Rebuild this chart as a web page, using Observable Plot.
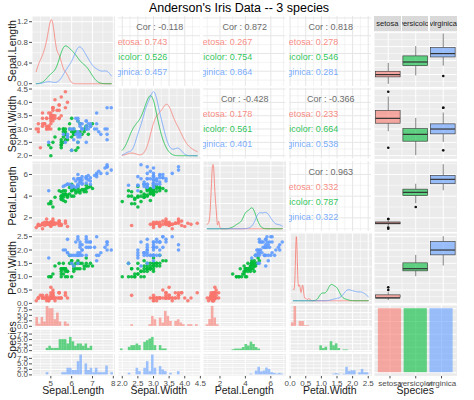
<!DOCTYPE html>
<html><head><meta charset="utf-8">
<script src="https://cdn.jsdelivr.net/npm/d3@7"></script>
<script src="https://cdn.jsdelivr.net/npm/@observablehq/plot@0.6"></script>
<style>
body{margin:0;background:#fff;font-family:"Liberation Sans",Arial,sans-serif}
#chart{position:relative;width:474px;height:400px;overflow:hidden}
.lbl{position:absolute;white-space:nowrap;color:#1a1a1a}
</style></head><body><div id="chart"></div>
<script>
const title = "Anderson's Iris Data -- 3 species";
const species = ["setosa", "versicolor", "virginica"];
const speciesColors = ["#F8766D", "#00BA38", "#619CFF"];
const varNames = ["Sepal.Length", "Sepal.Width", "Petal.Length", "Petal.Width"];

const sepalLength = [5.1,4.9,4.7,4.6,5.0,5.4,4.6,5.0,4.4,4.9,5.4,4.8,4.8,4.3,5.8,5.7,5.4,5.1,5.7,5.1,5.4,5.1,4.6,5.1,4.8,5.0,5.0,5.2,5.2,4.7,4.8,5.4,5.2,5.5,4.9,5.0,5.5,4.9,4.4,5.1,5.0,4.5,4.4,5.0,5.1,4.8,5.1,4.6,5.3,5.0,
7.0,6.4,6.9,5.5,6.5,5.7,6.3,4.9,6.6,5.2,5.0,5.9,6.0,6.1,5.6,6.7,5.6,5.8,6.2,5.6,5.9,6.1,6.3,6.1,6.4,6.6,6.8,6.7,6.0,5.7,5.5,5.5,5.8,6.0,5.4,6.0,6.7,6.3,5.6,5.5,5.5,6.1,5.8,5.0,5.6,5.7,5.7,6.2,5.1,5.7,
6.3,5.8,7.1,6.3,6.5,7.6,4.9,7.3,6.7,7.2,6.5,6.4,6.8,5.7,5.8,6.4,6.5,7.7,7.7,6.0,6.9,5.6,7.7,6.3,6.7,7.2,6.2,6.1,6.4,7.2,7.4,7.9,6.4,6.3,6.1,7.7,6.3,6.4,6.0,6.9,6.7,6.9,5.8,6.8,6.7,6.7,6.3,6.5,6.2,5.9];
const sepalWidth = [3.5,3.0,3.2,3.1,3.6,3.9,3.4,3.4,2.9,3.1,3.7,3.4,3.0,3.0,4.0,4.4,3.9,3.5,3.8,3.8,3.4,3.7,3.6,3.3,3.4,3.0,3.4,3.5,3.4,3.2,3.1,3.4,4.1,4.2,3.1,3.2,3.5,3.6,3.0,3.4,3.5,2.3,3.2,3.5,3.8,3.0,3.8,3.2,3.7,3.3,
3.2,3.2,3.1,2.3,2.8,2.8,3.3,2.4,2.9,2.7,2.0,3.0,2.2,2.9,2.9,3.1,3.0,2.7,2.2,2.5,3.2,2.8,2.5,2.8,2.9,3.0,2.8,3.0,2.9,2.6,2.4,2.4,2.7,2.7,3.0,3.4,3.1,2.3,3.0,2.5,2.6,3.0,2.6,2.3,2.7,3.0,2.9,2.9,2.5,2.8,
3.3,2.7,3.0,2.9,3.0,3.0,2.5,2.9,2.5,3.6,3.2,2.7,3.0,2.5,2.8,3.2,3.0,3.8,2.6,2.2,3.2,2.8,2.8,2.7,3.3,3.2,2.8,3.0,2.8,3.0,2.8,3.8,2.8,2.8,2.6,3.0,3.4,3.1,3.0,3.1,3.1,3.1,2.7,3.2,3.3,3.0,2.5,3.0,3.4,3.0];
const petalLength = [1.4,1.4,1.3,1.5,1.4,1.7,1.4,1.5,1.4,1.5,1.5,1.6,1.4,1.1,1.2,1.5,1.3,1.4,1.7,1.5,1.7,1.5,1.0,1.7,1.9,1.6,1.6,1.5,1.4,1.6,1.6,1.5,1.5,1.4,1.5,1.2,1.3,1.4,1.3,1.5,1.3,1.3,1.3,1.6,1.9,1.4,1.6,1.4,1.5,1.4,
4.7,4.5,4.9,4.0,4.6,4.5,4.7,3.3,4.6,3.9,3.5,4.2,4.0,4.7,3.6,4.4,4.5,4.1,4.5,3.9,4.8,4.0,4.9,4.7,4.3,4.4,4.8,5.0,4.5,3.5,3.8,3.7,3.9,5.1,4.5,4.5,4.7,4.4,4.1,4.0,4.4,4.6,4.0,3.3,4.2,4.2,4.2,4.3,3.0,4.1,
6.0,5.1,5.9,5.6,5.8,6.6,4.5,6.3,5.8,6.1,5.1,5.3,5.5,5.0,5.1,5.3,5.5,6.7,6.9,5.0,5.7,4.9,6.7,4.9,5.7,6.0,4.8,4.9,5.6,5.8,6.1,6.4,5.6,5.1,5.6,6.1,5.6,5.5,4.8,5.4,5.6,5.1,5.1,5.9,5.7,5.2,5.0,5.2,5.4,5.1];
const petalWidth = [0.2,0.2,0.2,0.2,0.2,0.4,0.3,0.2,0.2,0.1,0.2,0.2,0.1,0.1,0.2,0.4,0.4,0.3,0.3,0.3,0.2,0.4,0.2,0.5,0.2,0.2,0.4,0.2,0.2,0.2,0.2,0.4,0.1,0.2,0.2,0.2,0.2,0.1,0.2,0.2,0.3,0.3,0.2,0.6,0.4,0.3,0.2,0.2,0.2,0.2,
1.4,1.5,1.5,1.3,1.5,1.3,1.6,1.0,1.3,1.4,1.0,1.5,1.0,1.4,1.3,1.4,1.5,1.0,1.5,1.1,1.8,1.3,1.5,1.2,1.3,1.4,1.4,1.7,1.5,1.0,1.1,1.0,1.2,1.6,1.5,1.6,1.5,1.3,1.3,1.3,1.2,1.4,1.2,1.0,1.3,1.2,1.3,1.3,1.1,1.3,
2.5,1.9,2.1,1.8,2.2,2.1,1.7,1.8,1.8,2.5,2.0,1.9,2.1,2.0,2.4,2.3,1.8,2.2,2.3,1.5,2.3,2.0,2.0,1.8,2.1,1.8,1.8,1.8,2.1,1.6,1.9,2.0,2.2,1.5,1.4,2.3,2.4,1.8,1.8,2.1,2.4,2.3,1.9,2.3,2.5,2.3,1.9,2.0,2.3,1.8];
const speciesPerRow = 50;

// tick labels
const ticksSepalLength = [5, 6, 7, 8];
const ticksSepalWidth = [2, 2.5, 3, 3.5, 4, 4.5];
const ticksPetalLength = [2, 4, 6];
const ticksPetalWidth = [0, 0.5, 1, 1.5, 2, 2.5];
const ticksDensityTopLeft = [0, 0.4, 0.8, 1.2];
const ticksCountTopLeft = [0, 2.5, 5, 7.5];

// correlation labels (upper panels): [row, col]
const corCells = [[0,1],[0,2],[0,3],[1,2],[1,3],[2,3]];
const corOverall = ["-0.118", "0.872", "0.818", "-0.428", "-0.366", "0.963"];
const corSetosa = ["0.743", "0.267", "0.278", "0.178", "0.233", "0.332"];
const corVersicolor = ["0.526", "0.754", "0.546", "0.561", "0.664", "0.787"];
const corVirginica = ["0.457", "0.864", "0.281", "0.401", "0.538", "0.322"];

// ---------- derived data ----------
const rowSpecies = species.flatMap(s => Array(speciesPerRow).fill(s));
const columns = [sepalLength, sepalWidth, petalLength, petalWidth];
const rows = sepalLength.map((_, k) => ({species: rowSpecies[k], v: columns.map(c => c[k])}));
const vars = varNames.map((name, i) => {
  const values = columns[i];
  const [lo, hi] = d3.extent(values);
  const p = (hi - lo) * 0.05;
  return {name, values, lo, hi, domain: [lo - p, hi + p],
    ticks: [ticksSepalLength, ticksSepalWidth, ticksPetalLength, ticksPetalWidth][i],
    fmt: [d3.format("d"), d3.format(".1f"), d3.format("d"), d3.format(".1f")][i]};
});

function bwNrd0(v) {
  const s = d3.deviation(v);
  const sorted = v.slice().sort(d3.ascending);
  const iqr = d3.quantileSorted(sorted, 0.75) - d3.quantileSorted(sorted, 0.25);
  let lo = Math.min(s, iqr / 1.34);
  if (!(lo > 0)) lo = s || 1;
  return 0.9 * lo * Math.pow(v.length, -0.2);
}
function kde(v, lo, hi, n = 512) {
  const bw = bwNrd0(v), out = [];
  const c = 1 / (v.length * bw * Math.sqrt(2 * Math.PI));
  for (let i = 0; i < n; i++) {
    const x = lo + (hi - lo) * i / (n - 1);
    let s = 0;
    for (const xi of v) { const z = (x - xi) / bw; s += Math.exp(-0.5 * z * z); }
    out.push({x, y: s * c});
  }
  return out;
}
function minor(ticks, domain) {
  if (ticks.length < 2) return [];
  const s = ticks[1] - ticks[0], out = [];
  for (let t = ticks[0] - s / 2; t <= domain[1] + 1e-9; t += s) if (t >= domain[0]) out.push(t);
  return out;
}

// ---------- layout ----------
const chart = document.getElementById("chart");
const PW = 82.5, PH = 70.4;
const colLeft = c => 32 + 85.5 * c;
const rowTop = r => 16 + 72.3 * r;
const FONT = "Liberation Sans, Arial, sans-serif";

function makePanel(s) {
  const ml = s.col === 0 ? 32 : 0;
  const mb = s.row === 4 ? 16 : 0;
  const grid = s.grid || "white";
  const xMinor = s.xMinor ?? minor(s.xTicks, s.xDomain);
  const yMinor = s.yMinor ?? minor(s.yTicks, s.yDomain);
  const marks = [
    Plot.frame({fill: s.bg || "#EBEBEB", stroke: "none"}),
    Plot.ruleX(xMinor, {stroke: grid, strokeWidth: 0.5}),
    Plot.ruleY(yMinor, {stroke: grid, strokeWidth: 0.5}),
    Plot.ruleX(s.xTicks, {stroke: grid, strokeWidth: 1}),
    Plot.ruleY(s.yTicks, {stroke: grid, strokeWidth: 1}),
    ...s.marks
  ];
  const opts = {
    width: PW + ml, height: PH + mb,
    marginLeft: ml, marginRight: 0, marginTop: s.marginTop || 0, marginBottom: mb,
    style: {fontSize: "8px", fontFamily: FONT, color: "#4D4D4D", background: "transparent", overflow: s.clip ? "hidden" : "visible"},
    x: {domain: s.xDomain, axis: s.row === 4 ? "bottom" : null, ticks: s.xLabelTicks || s.xTicks, tickFormat: s.xFmt, tickSize: 3, tickPadding: 1, label: null},
    y: {domain: s.yDomain, axis: s.col === 0 ? "left" : null, ticks: s.yLabelTicks || s.yTicks, tickFormat: s.yFmt, tickSize: 3, tickPadding: 1.5, label: null},
    color: {domain: species, range: speciesColors},
    marks
  };
  if (s.fy) opts.fy = s.fy;
  const svg = Plot.plot(opts);
  svg.style.position = "absolute";
  svg.style.left = (colLeft(s.col) - ml) + "px";
  svg.style.top = rowTop(s.row) + "px";
  chart.appendChild(svg);
}

const corFracs = [0.9, 0.6667, 0.4333, 0.2];

for (let r = 0; r < 4; r++) {
  const vy = vars[r];
  for (let c = 0; c < 4; c++) {
    const vx = vars[c];
    if (r === c) {
      const dens = species.flatMap(sp => {
        const v = vx.values.filter((_, k) => rowSpecies[k] === sp);
        return kde(v, vx.lo, vx.hi).map(d => ({...d, species: sp}));
      });
      const M = d3.max(dens, d => d.y);
      const yTicks = (r === 0) ? ticksDensityTopLeft : d3.ticks(0, M, 4);
      makePanel({row: r, col: c, xDomain: vx.domain, xTicks: vx.ticks, xFmt: vx.fmt,
        yDomain: [-0.05 * M, 1.05 * M], yTicks, yFmt: d3.format(".1f"),
        marks: [Plot.line(dens, {x: "x", y: "y", stroke: "species", z: "species", strokeWidth: 0.8})]});
    } else if (r > c) {
      makePanel({row: r, col: c, xDomain: vx.domain, xTicks: vx.ticks, xFmt: vx.fmt,
        yDomain: vy.domain, yTicks: vy.ticks, yFmt: vy.fmt,
        marks: [Plot.dot(rows, {x: d => d.v[c], y: d => d.v[r], fill: "species", r: 1.8, stroke: "none", fillOpacity: 0.9})]});
    } else {
      const k = corCells.findIndex(([a, b]) => a === r && b === c);
      const yAt = f => vy.lo + f * (vy.hi - vy.lo);
      const texts = [
        {x: (vx.lo + vx.hi) / 2, y: yAt(corFracs[0]), t: "Cor : " + corOverall[k], fill: "#6b6b6b"},
        {x: vx.lo + 0.6 * (vx.hi - vx.lo), y: yAt(corFracs[1]), t: "setosa: " + corSetosa[k], fill: speciesColors[0]},
        {x: vx.lo + 0.6 * (vx.hi - vx.lo), y: yAt(corFracs[2]), t: "versicolor: " + corVersicolor[k], fill: speciesColors[1]},
        {x: vx.lo + 0.6 * (vx.hi - vx.lo), y: yAt(corFracs[3]), t: "virginica: " + corVirginica[k], fill: speciesColors[2]}
      ];
      makePanel({row: r, col: c, clip: true, bg: "white", grid: "#E6E6E6",
        xDomain: vx.domain, xTicks: vx.ticks, yDomain: vy.domain, yTicks: vy.ticks,
        marks: [
          Plot.text(texts.slice(0, 1), {x: "x", y: "y", text: "t", fill: "fill", textAnchor: "middle", fontSize: 9, dy: 1.3}),
          Plot.text(texts.slice(1), {x: "x", y: "y", text: "t", fill: "fill", textAnchor: "end", fontSize: 9, dy: 1.3, fillOpacity: 0.85})
        ]});
    }
  }
  // box plots in column 5
  const stats = [], outliers = [];
  species.forEach((sp, i) => {
    const v = vy.values.filter((_, k) => rowSpecies[k] === sp).sort(d3.ascending);
    const q1 = d3.quantileSorted(v, 0.25), med = d3.quantileSorted(v, 0.5), q3 = d3.quantileSorted(v, 0.75);
    const iqr = q3 - q1;
    const inside = v.filter(x => x >= q1 - 1.5 * iqr && x <= q3 + 1.5 * iqr);
    stats.push({species: sp, idx: i + 1, q1, med, q3, lo: d3.min(inside), hi: d3.max(inside)});
    v.filter(x => x < q1 - 1.5 * iqr || x > q3 + 1.5 * iqr).forEach(x => outliers.push({idx: i + 1, value: x}));
  });
  makePanel({row: r, col: 4, marginTop: r === 0 ? 15 : 0,
    xDomain: [0.5, 3.5], xTicks: [1, 2, 3], xMinor: [1.5, 2.5],
    yDomain: vy.domain, yTicks: vy.ticks,
    marks: [
      Plot.ruleX(stats, {x: "idx", y1: "lo", y2: "q1", stroke: "#333", strokeWidth: 0.6}),
      Plot.ruleX(stats, {x: "idx", y1: "q3", y2: "hi", stroke: "#333", strokeWidth: 0.6}),
      Plot.rect(stats, {x1: d => d.idx - 0.45, x2: d => d.idx + 0.45, y1: "q1", y2: "q3", fill: "species", fillOpacity: 0.6, stroke: "#333", strokeWidth: 0.6}),
      Plot.ruleY(stats, {y: "med", x1: d => d.idx - 0.45, x2: d => d.idx + 0.45, stroke: "#333", strokeWidth: 1.2}),
      Plot.dot(outliers, {x: "idx", y: "value", r: 1.3, fill: "#111", stroke: "none"})
    ]});
}

// bottom row: histograms faceted by species
for (let c = 0; c < 4; c++) {
  const vx = vars[c];
  const w = (vx.hi - vx.lo) / 29;
  const counts = new Map();
  vx.values.forEach((x, k) => {
    const j = Math.ceil(x / w - 0.5 - 1e-7);
    const key = rowSpecies[k] + "|" + j;
    counts.set(key, (counts.get(key) || 0) + 1);
  });
  const bins = Array.from(counts, ([key, n]) => {
    const [sp, j] = key.split("|");
    return {species: sp, x1: (+j - 0.5) * w, x2: (+j + 0.5) * w, count: n};
  });
  const M = d3.max(bins, d => d.count);
  const yTicks = c === 0 ? ticksCountTopLeft : d3.ticks(0, M, 4);
  makePanel({row: 4, col: c, xDomain: vx.domain, xTicks: vx.ticks, xFmt: vx.fmt,
    yDomain: [-0.05 * M, 1.05 * M], yTicks, yFmt: d3.format(".1f"),
    fy: {domain: species, axis: null, label: null, paddingInner: 0.1, paddingOuter: 0, round: false},
    marks: [Plot.rect(bins, {x1: "x1", x2: "x2", y1: 0, y2: "count", fy: "species", fill: "species", fillOpacity: 0.6})]});
}

// bottom-right bar chart
const speciesCounts = d3.rollups(rowSpecies, v => v.length, d => d).map(([sp, n]) => ({species: sp, idx: species.indexOf(sp) + 1, n}));
makePanel({row: 4, col: 4, xDomain: [0.4, 3.6], xTicks: [1, 2, 3], xMinor: [], xFmt: i => species[i - 1],
  yDomain: [-2.5, 52.5], yTicks: d3.ticks(0, 50, 5),
  marks: [Plot.rect(speciesCounts, {x1: d => d.idx - 0.45, x2: d => d.idx + 0.45, y1: 0, y2: "n", fill: "species", fillOpacity: 0.6})]});

// strip above box panel
species.forEach((sp, i) => {
  const d = document.createElement("div");
  const cw = PW / 3;
  d.style.cssText = `position:absolute;left:${colLeft(4) + i * cw + (i ? 0.75 : 0)}px;top:${rowTop(0)}px;width:${cw - (i ? 0.75 : 0) - (i < 2 ? 0.75 : 0)}px;height:14.5px;background:#D9D9D9;overflow:hidden;display:flex;justify-content:center;align-items:center;font-size:7.5px;color:#1A1A1A;white-space:nowrap;font-family:${FONT}`;
  const s = document.createElement("span");
  s.textContent = sp; s.style.flex = "none";
  d.appendChild(s);
  chart.appendChild(d);
});

// titles
function label(text, css) {
  const d = document.createElement("div");
  d.className = "lbl"; d.textContent = text; d.style.cssText += css;
  chart.appendChild(d);
}
label(title, `left:2px;width:474px;text-align:center;top:1px;font-size:12.5px;color:#000`);
const axisTitles = [...varNames, "Species"];
axisTitles.forEach((t, i) => {
  label(t, `left:${colLeft(i) + PW / 2}px;top:390px;transform:translate(-50%,-50%);font-size:10.5px`);
  label(t, `left:12px;top:${rowTop(i) + PH / 2}px;transform:translate(-50%,-50%) rotate(-90deg);font-size:10.5px`);
});
</script></body></html>
